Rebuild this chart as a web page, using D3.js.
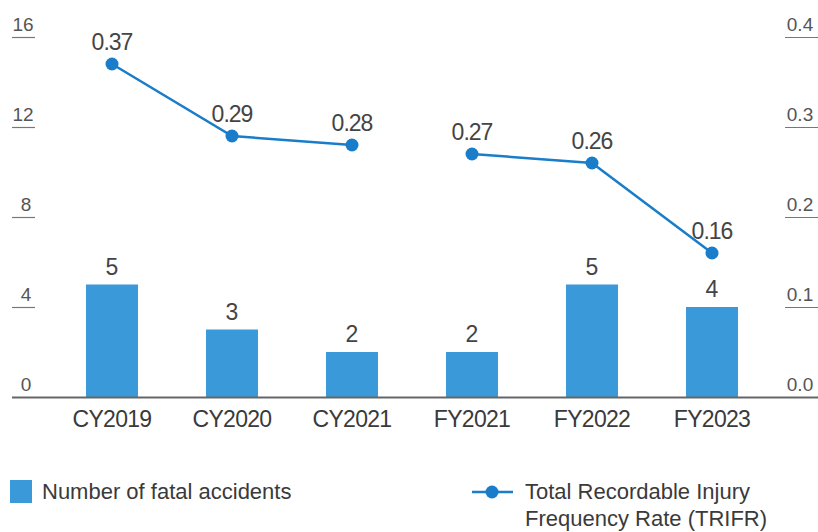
<!DOCTYPE html>
<html>
<head>
<meta charset="utf-8">
<script src="https://cdnjs.cloudflare.com/ajax/libs/d3/7.8.5/d3.min.js"></script>
<style>
  html, body { margin: 0; padding: 0; background: #fff; }
  svg { display: block; font-family: "Liberation Sans", Arial, sans-serif; }
</style>
</head>
<body>
<svg id="chart" width="818" height="532"></svg>
<script>
// ---- data ----
const categories = ["CY2019", "CY2020", "CY2021", "FY2021", "FY2022", "FY2023"];
const fatalAccidents = [5, 3, 2, 2, 5, 4];
const trifr = [0.37, 0.29, 0.28, 0.27, 0.26, 0.16];
const lineGroups = [[0, 1, 2], [3, 4, 5]]; // line is broken between CY2021 and FY2021
const leftTicks = [0, 4, 8, 12, 16];
const rightTicks = [0, 0.1, 0.2, 0.3, 0.4];
const barLegend = "Number of fatal accidents";
const lineLegend = ["Total Recordable Injury", "Frequency Rate (TRIFR)"];

// ---- layout ----
const barColor = "#3a9ad9";
const lineColor = "#1a7dc9";
const textColor = "#444";
const axisColor = "#777";
const baseY = 397, topY = 37;
const svg = d3.select("#chart");

const x = d3.scaleBand().domain(categories).range([52, 772])
  .paddingInner(0.567).paddingOuter(0.2835);
const yL = d3.scaleLinear().domain([0, 16]).range([baseY, topY]);
const yR = d3.scaleLinear().domain([0, 0.4]).range([baseY, topY]);

// left axis ticks (short underline + label)
const lt = svg.append("g");
leftTicks.filter(d => d !== 0).forEach(d => {
  lt.append("line").attr("x1", 12).attr("x2", 35)
    .attr("y1", yL(d) + 0.5).attr("y2", yL(d) + 0.5)
    .attr("stroke", axisColor).attr("stroke-width", 1.2);
});
leftTicks.forEach(d => {
  lt.append("text").attr("x", d >= 10 ? 23 : 26).attr("y", yL(d) - 6)
    .attr("text-anchor", "middle").attr("font-size", 19)
    .attr("fill", "#555").text(d3.format("d")(d));
});

// right axis ticks
const rt = svg.append("g");
rightTicks.filter(d => d !== 0).forEach(d => {
  rt.append("line").attr("x1", 785).attr("x2", 818)
    .attr("y1", yR(d) + 0.5).attr("y2", yR(d) + 0.5)
    .attr("stroke", axisColor).attr("stroke-width", 1.2);
});
rightTicks.forEach(d => {
  rt.append("text").attr("x", 800).attr("y", yR(d) - 6)
    .attr("text-anchor", "middle").attr("font-size", 19)
    .attr("fill", "#555").text(d3.format(".1f")(d));
});

// bars
svg.append("g").selectAll("rect").data(categories).join("rect")
  .attr("x", d => x(d))
  .attr("width", x.bandwidth())
  .attr("y", (d, i) => yL(fatalAccidents[i]))
  .attr("height", (d, i) => baseY - yL(fatalAccidents[i]))
  .attr("fill", barColor);

// bar labels
svg.append("g").selectAll("text").data(categories).join("text")
  .attr("x", d => x(d) + x.bandwidth() / 2)
  .attr("y", (d, i) => yL(fatalAccidents[i]) - 10)
  .attr("text-anchor", "middle").attr("font-size", 23)
  .attr("fill", textColor)
  .text((d, i) => fatalAccidents[i]);

// baseline
svg.append("line").attr("x1", 12).attr("x2", 818)
  .attr("y1", baseY + 0.5).attr("y2", baseY + 0.5)
  .attr("stroke", "#666").attr("stroke-width", 2);

// x labels
svg.append("g").selectAll("text").data(categories).join("text")
  .attr("x", d => x(d) + x.bandwidth() / 2)
  .attr("y", 427)
  .attr("text-anchor", "middle").attr("font-size", 23)
  .attr("letter-spacing", -0.7)
  .attr("fill", "#3a3a3a").text(d => d);

// line segments
const cx = i => x(categories[i]) + x.bandwidth() / 2;
const line = d3.line().x(i => cx(i)).y(i => yR(trifr[i]));
svg.append("g").selectAll("path").data(lineGroups).join("path")
  .attr("d", line).attr("fill", "none")
  .attr("stroke", lineColor).attr("stroke-width", 2.5);

svg.append("g").selectAll("circle").data(trifr).join("circle")
  .attr("cx", (d, i) => cx(i)).attr("cy", d => yR(d)).attr("r", 6.5)
  .attr("fill", lineColor);

svg.append("g").selectAll("text").data(trifr).join("text")
  .attr("x", (d, i) => cx(i)).attr("y", d => yR(d) - 14)
  .attr("text-anchor", "middle").attr("font-size", 23)
  .attr("letter-spacing", -1)
  .attr("fill", textColor).text(d => d3.format(".2f")(d));

// legend
const lg = svg.append("g");
lg.append("rect").attr("x", 10).attr("y", 480).attr("width", 22).attr("height", 23)
  .attr("fill", barColor);
lg.append("text").attr("x", 42).attr("y", 499).attr("font-size", 22)
  .attr("fill", "#3a3a3a").text(barLegend);
lg.append("line").attr("x1", 472).attr("x2", 513).attr("y1", 492).attr("y2", 492)
  .attr("stroke", lineColor).attr("stroke-width", 2.5);
lg.append("circle").attr("cx", 492).attr("cy", 492).attr("r", 6.5).attr("fill", lineColor);
lg.append("text").attr("x", 525).attr("y", 499).attr("font-size", 22)
  .attr("fill", "#3a3a3a").text(lineLegend[0]);
lg.append("text").attr("x", 525).attr("y", 526).attr("font-size", 22)
  .attr("fill", "#3a3a3a").text(lineLegend[1]);
</script>
</body>
</html>
